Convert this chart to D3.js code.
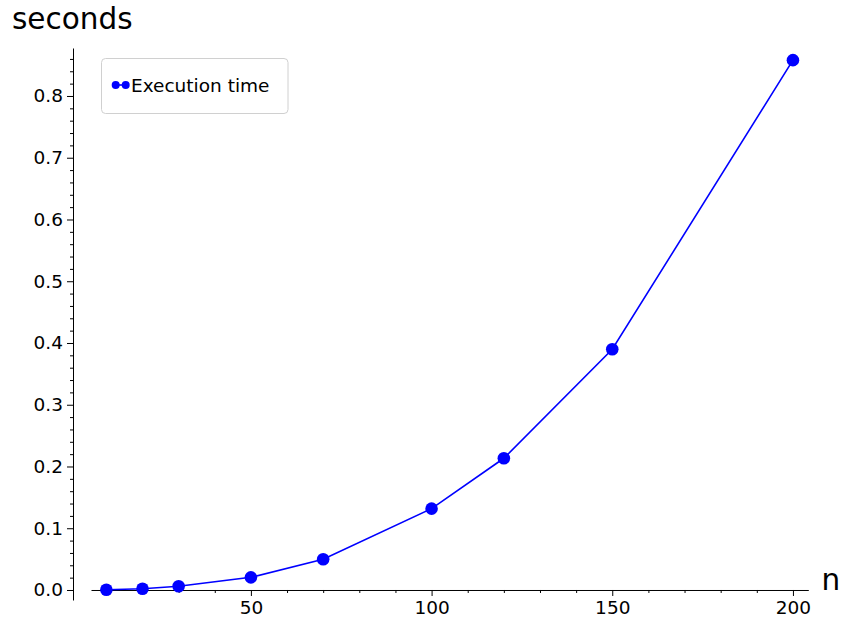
<!DOCTYPE html>
<html><head><meta charset="utf-8">
<script src="https://cdn.jsdelivr.net/npm/d3@7"></script>
<style>body{margin:0;background:#fff;} svg{display:block;font-family:"DejaVu Sans",sans-serif;}</style>
</head><body>
<svg id="chart" width="842" height="624"></svg>
<script>
const nValues = [10, 20, 30, 50, 70, 100, 120, 150, 200];
const seconds = [0.0004, 0.002, 0.006, 0.0205, 0.0497, 0.1317, 0.2133, 0.3898, 0.858];
const xMajorTicks = [50, 100, 150, 200];
const xMinorTicks = d3.range(10, 201, 10).filter(v => v % 50 !== 0);
const yMajorTicks = d3.range(0, 9).map(i => i / 10);
const yMinorTicks = d3.range(0, 44).map(i => i * 0.02).filter(v => Math.abs(v * 10 - Math.round(v * 10)) > 1e-6);
const seriesName = "Execution time";
const xLabel = "n", yLabel = "seconds";

const svg = d3.select("#chart");
const x = d3.scaleLinear().domain([5.75, 204.25]).range([91, 808.3]);
const y = d3.scaleLinear().domain([-0.0162, 0.8777]).range([600, 48]);
const y0 = y(0), yAxisX = 73;
const fs = 18.5;

// x axis
const gx = svg.append("g").attr("transform", `translate(0,${y0})`);
gx.call(d3.axisBottom(x).tickValues(xMinorTicks).tickSize(3).tickSizeOuter(0).tickFormat(""));
gx.append("g").call(d3.axisBottom(x).tickValues(xMajorTicks).tickSize(6).tickSizeOuter(0).tickPadding(5).tickFormat(d3.format("d")))
  .call(g => g.select(".domain").remove());
gx.selectAll("text").attr("font-size", fs).attr("font-family", "DejaVu Sans").attr("fill", "#000");
gx.selectAll("line,path").attr("stroke", "#000");

// y axis
const gy = svg.append("g").attr("transform", `translate(${yAxisX},0)`);
gy.call(d3.axisLeft(y).tickValues(yMinorTicks).tickSize(3).tickSizeOuter(0).tickFormat(""));
gy.append("g").call(d3.axisLeft(y).tickValues(yMajorTicks).tickSize(6).tickSizeOuter(0).tickPadding(4).tickFormat(d3.format(".1f")))
  .call(g => g.select(".domain").remove());
gy.selectAll("text").attr("font-size", fs).attr("font-family", "DejaVu Sans").attr("fill", "#000");
gy.selectAll("line,path").attr("stroke", "#000");

// axis labels
svg.append("text").attr("x", 12).attr("y", 28.5).attr("font-size", 29.5).text(yLabel);
svg.append("text").attr("x", 821.5).attr("y", 589.5).attr("font-size", 29.5).text(xLabel);

// series
const data = nValues.map((n, i) => ({n, s: seconds[i]}));
svg.append("path").datum(data)
  .attr("fill", "none").attr("stroke", "#0000ff").attr("stroke-width", 1.6)
  .attr("d", d3.line().x(d => x(d.n)).y(d => y(d.s)));
svg.append("g").selectAll("circle").data(data).join("circle")
  .attr("cx", d => x(d.n)).attr("cy", d => y(d.s)).attr("r", 6.3).attr("fill", "#0000ff");

// legend
const lg = svg.append("g");
lg.append("rect").attr("x", 101.5).attr("y", 58.5).attr("width", 186.5).attr("height", 55)
  .attr("rx", 4).attr("fill", "#fff").attr("stroke", "#d0d0d0").attr("stroke-width", 1);
lg.append("line").attr("x1", 115.7).attr("x2", 125.7).attr("y1", 85).attr("y2", 85).attr("stroke", "#0000ff").attr("stroke-width", 1.6);
lg.selectAll("circle").data([115.7, 125.7]).join("circle")
  .attr("cx", d => d).attr("cy", 85).attr("r", 4).attr("fill", "#0000ff");
lg.append("text").attr("x", 131).attr("y", 91.5).attr("font-size", 18.5).text(seriesName);
</script>
</body></html>
